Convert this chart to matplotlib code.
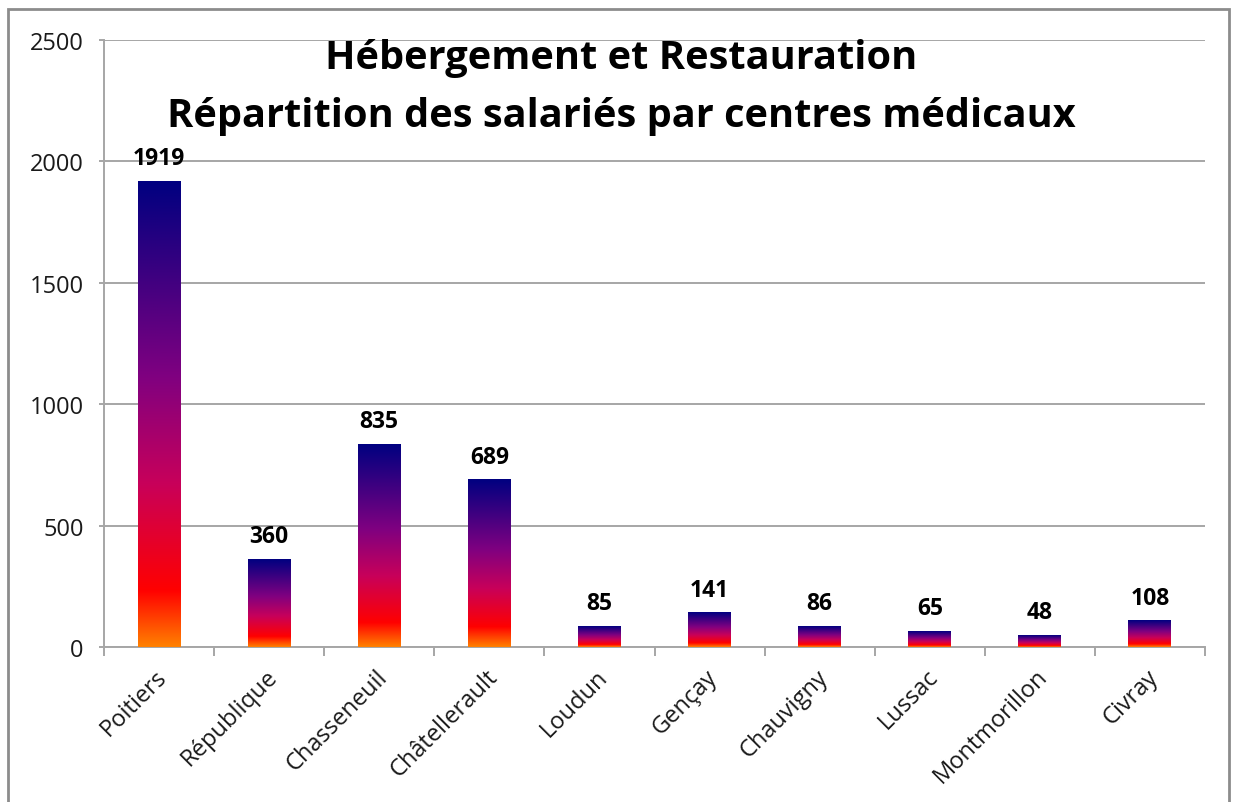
import matplotlib
matplotlib.use("Agg")
import matplotlib.pyplot as plt
import matplotlib.transforms as mtransforms
import numpy as np
from matplotlib.colors import LinearSegmentedColormap
from matplotlib.patches import Rectangle

categories = ["Poitiers", "République", "Chasseneuil", "Châtellerault", "Loudun",
              "Gençay", "Chauvigny", "Lussac", "Montmorillon", "Civray"]
values = [1919, 360, 835, 689, 85, 141, 86, 65, 48, 108]
yticks = [0, 500, 1000, 1500, 2000, 2500]
title_lines = ["Hébergement et Restauration",
               "Répartition des salariés par centres médicaux"]

W, H = 1234, 803
fig = plt.figure(figsize=(W / 100, H / 100), dpi=100)
fig.patch.set_facecolor("white")
fig.patches.append(Rectangle((8 / W, -0.01), (1229 - 8) / W, 1.01 - 10 / H,
                             transform=fig.transFigure, fill=False,
                             edgecolor="#8c8c8c", linewidth=2))

ax = fig.add_axes([104 / W, 1 - 648 / H, (1205 - 104) / W, (648 - 41) / H])
font = "Open Sans"
cmap = LinearSegmentedColormap.from_list(
    "fire", [(0.0, "#ff8000"), (0.12, "#ff0000"), (0.35, "#c8005a"),
             (0.58, "#800080"), (1.0, "#000080")])
grad = np.linspace(0, 1, 256).reshape(-1, 1)

x = np.arange(len(categories))
bars = ax.bar(x, values, width=0.39, color="none", edgecolor="none", zorder=3)
for b, v in zip(bars, values):
    x0 = b.get_x()
    x1 = x0 + b.get_width()
    ax.imshow(grad, cmap=cmap, origin="lower", aspect="auto",
              extent=(x0, x1, 0, v), zorder=3, interpolation="bilinear")
    ax.annotate(str(v), (b.get_x() + b.get_width() / 2, v), xytext=(0, 8),
                textcoords="offset points", ha="center", va="bottom",
                fontsize=16.5, fontweight="bold", family=font, color="black")

ax.set_xlim(-0.5, len(categories) - 0.5)
ax.set_ylim(0, 2500)
ax.set_yticks(yticks)
ax.set_yticklabels([str(t) for t in yticks], family=font, fontsize=17, color="#1a1a1a")
ax.set_xticks(x)
ax.set_xticklabels(categories, rotation=45, ha="right", rotation_mode="anchor",
                   family=font, fontsize=17, color="#1a1a1a")
ax.set_xticks(np.arange(-0.5, len(categories), 1), minor=True)
ax.tick_params(axis="x", which="major", length=0, pad=11)
ax.tick_params(axis="x", which="minor", length=6.5, color="#a6a6a6", width=1.4)
ax.tick_params(axis="y", length=3.6, color="#a6a6a6", width=1.4, pad=11)
ax.grid(axis="y", color="#a6a6a6", linewidth=1.4, zorder=0)
ax.set_axisbelow(True)
for s in ["top", "right"]:
    ax.spines[s].set_visible(False)
for s in ["left", "bottom"]:
    ax.spines[s].set_color("#a6a6a6")
    ax.spines[s].set_linewidth(1.4)
offset = mtransforms.ScaledTranslation(-4 / 100, -2 / 100, fig.dpi_scale_trans)
for lbl in ax.get_xticklabels():
    lbl.set_transform(lbl.get_transform() + offset)

for line, base in zip(title_lines, [69, 127]):
    fig.text(621 / W, 1 - base / H, line, ha="center", va="baseline", fontsize=28.6,
             fontweight="bold", family=font)

fig.savefig("out.png", dpi=100)
